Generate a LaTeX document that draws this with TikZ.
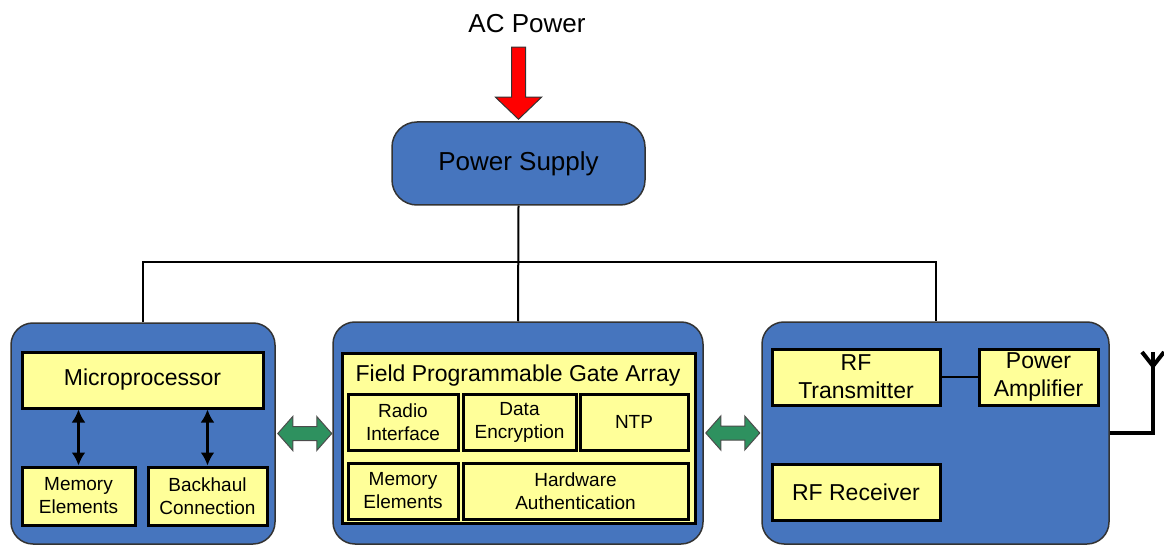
\documentclass[tikz,border=0pt]{standalone}
\usepackage{fontspec}
\setmainfont{Liberation Sans}
\usetikzlibrary{arrows.meta}

\definecolor{boardblue}{RGB}{70,117,190}
\definecolor{chipyellow}{RGB}{255,255,153}
\definecolor{linkgreen}{RGB}{46,145,95}

\tikzset{
  board/.style={draw=black!80, line width=1.5pt, fill=boardblue, rounded corners=22pt},
  chip/.style={draw=black, line width=3pt, fill=chipyellow, inner sep=0pt, align=center,
    font=\fontsize{19}{23}\selectfont},
  bigchip/.style={chip, font=\fontsize{23}{28}\selectfont},
  wire/.style={line width=2pt},
  biarrow/.style={line width=3.5pt, {Latex[length=13pt,width=14pt]}-{Latex[length=13pt,width=14pt]}},
  link/.style={draw=black!70, line width=1pt, fill=linkgreen},
  antenna/.style={line width=4pt},
}

\begin{document}
\begin{tikzpicture}[x=1pt,y=-1pt]
\useasboundingbox (0,0) rectangle (1164,545);

% power input
\node[font=\fontsize{26}{31}\selectfont] (ac) at (527,24) {AC Power};
\node[board, rounded corners=25pt, minimum width=253, minimum height=83,
  font=\fontsize{26}{31}\selectfont] (psu) at (518.5,163.5) {Power Supply};
\draw[draw=black!80, line width=1pt, fill=red] ([yshift=2]psu.north) -- ++(-23,-22) -- ++(16,0)
  -- ++(0,-50) -- ++(14,0) -- ++(0,50) -- ++(16,0) -- cycle;

% the three boards
\node[board, minimum width=264, minimum height=221] (cpuboard) at (143,433.5) {};
\node[board, minimum width=370, minimum height=222] (fpgaboard) at (518,433) {};
\node[board, minimum width=347, minimum height=222] (rfboard) at (935.5,433) {};

% power distribution
\coordinate (bus) at (518,262);
\draw[wire] (psu.south) -- (fpgaboard.north);
\draw[wire] (cpuboard.north) |- (bus) -| (rfboard.north);

% processor board
\node[bigchip, minimum width=241, minimum height=56] (micro) at (142.5,380) {Microprocessor};
\node[chip, minimum width=113, minimum height=58] (memA) at (78.5,496) {Memory\\Elements};
\node[chip, minimum width=119, minimum height=58] (backhaul) at (207.5,496) {Backhaul\\Connection};
\draw[biarrow] (memA.north) -- (memA.north |- micro.south);
\draw[biarrow] (backhaul.north) -- (backhaul.north |- micro.south);

% fpga board
\node[chip, minimum width=353, minimum height=170] (fpga) at (518.5,438) {};
\node[font=\fontsize{23}{28}\selectfont] (fpgatitle) at (518,376) {Field Programmable Gate Array};
\node[chip, minimum width=110, minimum height=56] (radio) at (403,422) {Radio\\Interface};
\node[chip, minimum width=113, minimum height=56] (crypt) at (519.5,422) {Data\\Encryption};
\node[chip, minimum width=108, minimum height=56] (ntp) at (634,422) {NTP};
\node[chip, minimum width=110, minimum height=56] (memB) at (403,491) {Memory\\Elements};
\node[chip, minimum width=225, minimum height=56] (hwauth) at (575.5,491) {Hardware\\Authentication};

% rf board
\node[bigchip, minimum width=168, minimum height=56] (rftx) at (856,377) {RF\\Transmitter};
\node[bigchip, minimum width=119, minimum height=56] (pa) at (1038.5,377) {Power\\Amplifier};
\node[bigchip, minimum width=168, minimum height=56] (rfrx) at (856,492) {RF Receiver};
\draw[wire] (rftx.east) -- (pa.west);

% board links
\draw[link] ([xshift=2]cpuboard.east) -- ++(15,-17) -- ++(0,10) -- ++(24,0) -- ++(0,-10)
  -- ++(15,17) -- ++(-15,17) -- ++(0,-10) -- ++(-24,0) -- ++(0,10) -- cycle;
\draw[link] ([xshift=2]fpgaboard.east) -- ++(15,-17) -- ++(0,10) -- ++(24,0) -- ++(0,-10)
  -- ++(15,17) -- ++(-15,17) -- ++(0,-10) -- ++(-24,0) -- ++(0,10) -- cycle;

% antenna
\coordinate (antfoot) at (1153,433);
\coordinate (anttop) at (1153,352);
\coordinate (antfork) at (1153,366);
\draw[antenna] (rfboard.east) -- (antfoot) -- (anttop);
\draw[antenna] (antfork) -- ++(-11,-14);
\draw[antenna] (antfork) -- ++(11,-14);
\end{tikzpicture}
\end{document}
